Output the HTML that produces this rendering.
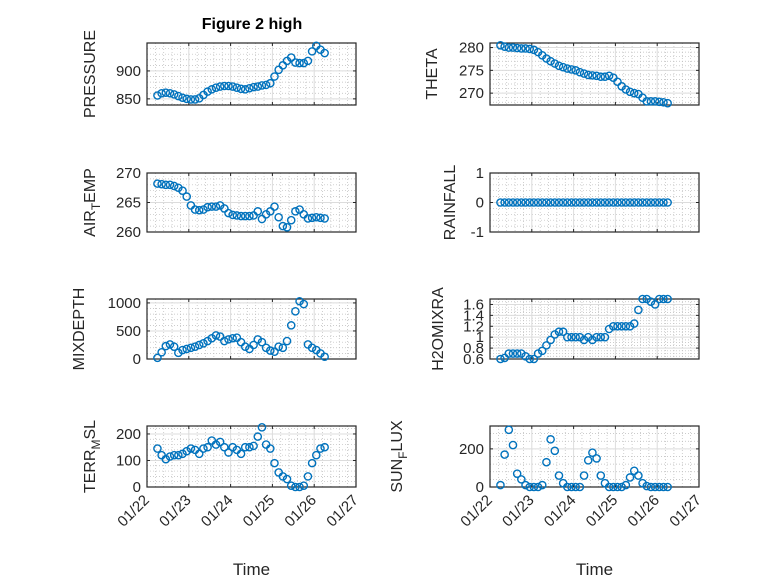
<!DOCTYPE html>
<html><head><meta charset="utf-8"><style>
html,body{margin:0;padding:0;background:#fff;}
svg{display:block;font-family:"Liberation Sans","DejaVu Sans",sans-serif;}
</style></head><body>
<svg id="fig" width="778" height="583" viewBox="0 0 778 583" xmlns="http://www.w3.org/2000/svg">
<rect width="778" height="583" fill="#fff"/>
<text x="252" y="29" text-anchor="middle" font-weight="bold" font-size="16" fill="#000">Figure 2 high</text>
</svg>
<script>
const days = [0.25,0.35,0.45,0.55,0.65,0.75,0.85,0.95,1.05,1.15,1.25,1.35,1.45,1.55,1.65,1.75,1.85,1.95,2.05,2.15,2.25,2.35,2.45,2.55,2.65,2.75,2.85,2.95,3.05,3.15,3.25,3.35,3.45,3.55,3.65,3.75,3.85,3.95,4.05,4.15,4.25];
const xTickLabels = ["01/22","01/23","01/24","01/25","01/26","01/27"];
const pressure = [856,860,861,860,858,855,852,850,849,849,851,857,863,867,870,872,873,873,872,870,868,867,869,871,872,874,875,878,890,902,910,918,924,915,914,914,918,935,945,938,932];
const theta = [280.5,280.2,280,280,279.9,279.8,279.8,279.7,279.5,279,278.3,277.6,277,276.5,276,275.7,275.4,275.2,275,274.6,274.3,274,273.9,273.8,273.6,273.6,273.8,273.4,272.5,271.5,270.8,270.3,270,269.8,269,268.2,268.2,268.2,268.1,268,267.8];
const airTemp = [268.2,268.1,268,268,267.8,267.5,267,266,264.5,263.8,263.7,263.8,264.2,264.3,264.3,264.5,264,263.2,262.9,262.8,262.7,262.7,262.7,262.8,263.5,262.2,263,263.5,264.3,262.5,261,260.8,262,263.5,263.8,263,262.3,262.4,262.5,262.4,262.3];
const rainfall = [0,0,0,0,0,0,0,0,0,0,0,0,0,0,0,0,0,0,0,0,0,0,0,0,0,0,0,0,0,0,0,0,0,0,0,0,0,0,0,0,0];
const mixDepth = [20,120,230,260,220,110,160,180,200,220,250,280,320,370,420,400,320,350,370,380,300,220,180,250,350,300,200,150,130,220,200,320,600,850,1030,980,260,200,160,100,40];
const h2oMixRa = [0.6,0.62,0.7,0.7,0.7,0.7,0.65,0.6,0.6,0.7,0.75,0.85,0.95,1.05,1.1,1.1,1.0,1.0,1.0,1.0,0.95,1.0,0.95,1.0,1.0,1.0,1.15,1.2,1.2,1.2,1.2,1.2,1.25,1.5,1.7,1.7,1.65,1.6,1.7,1.7,1.7];
const terrMsl = [145,120,105,115,120,120,125,135,145,140,125,145,150,175,160,170,150,130,150,140,125,150,150,155,190,225,160,145,90,55,40,30,5,0,0,5,40,90,120,145,150];
const sunFlux = [10,170,300,220,70,40,10,0,0,0,10,130,250,190,60,20,0,0,0,0,60,140,180,150,60,20,0,0,0,0,10,50,85,60,20,5,0,0,0,0,0];
const pressureTicks = [850,900];
const thetaTicks = [270,275,280];
const airTicks = [260,265,270];
const rainTicks = [-1,0,1];
const mixTicks = [0,500,1000];
const h2oTicks = [0.6,0.8,1,1.2,1.4,1.6];
const terrTicks = [0,100,200];
const sunTicks = [0,200];

const NS = "http://www.w3.org/2000/svg";
const svg = document.getElementById('fig');
function mk(tag, attrs, parent){const e=document.createElementNS(NS,tag);for(const k in attrs)e.setAttribute(k,attrs[k]);(parent||svg).appendChild(e);return e;}

const cols = [{x0:147,x1:356},{x0:490,x1:699}];
const rows = [{y0:43,y1:105},{y0:173,y1:232},{y0:299,y1:359},{y0:426,y1:487}];

function panel(o){
  const c=cols[o.col], r=rows[o.row];
  const g=mk('g',{});
  
  
  const sx=d=>c.x0+(d/5)*(c.x1-c.x0);
  const sy=v=>r.y1-(v-o.ymin)/(o.ymax-o.ymin)*(r.y1-r.y0);
  // minor grid
  for(let i=1;i<25;i++){ if(i%5===0)continue; const x=c.x0+i*(c.x1-c.x0)/25;
    mk('line',{x1:x,x2:x,y1:r.y0,y2:r.y1,stroke:'#bbb','stroke-width':0.7,'stroke-dasharray':'1,2'},g);}
  const mstep=o.minor;
  for(let v=Math.ceil(o.ymin/mstep)*mstep; v<=o.ymax; v+=mstep){ const y=sy(v); if(y<r.y0||y>r.y1)continue;
    mk('line',{x1:c.x0,x2:c.x1,y1:y,y2:y,stroke:'#bbb','stroke-width':0.7,'stroke-dasharray':'1,2'},g);}
  // major grid
  for(let i=1;i<5;i++){const x=sx(i);mk('line',{x1:x,x2:x,y1:r.y0,y2:r.y1,stroke:'#dcdcdc','stroke-width':1},g);}
  o.ticks.forEach(v=>{const y=sy(v);mk('line',{x1:c.x0,x2:c.x1,y1:y,y2:y,stroke:'#dcdcdc','stroke-width':1},g);
    const t=mk('text',{x:c.x0-6,y:y+5,'text-anchor':'end','font-size':15,fill:'#262626'},g);t.textContent=String(v);
    mk('line',{x1:c.x0,x2:c.x0+3,y1:y,y2:y,stroke:'#262626'},g);mk('line',{x1:c.x1,x2:c.x1-3,y1:y,y2:y,stroke:'#262626'},g);});
  for(let i=0;i<=5;i++){const x=sx(i);mk('line',{x1:x,x2:x,y1:r.y1,y2:r.y1-3,stroke:'#262626'},g);mk('line',{x1:x,x2:x,y1:r.y0,y2:r.y0+3,stroke:'#262626'},g);}
  mk('rect',{x:c.x0,y:r.y0,width:c.x1-c.x0,height:r.y1-r.y0,fill:'none',stroke:'#262626','stroke-width':1.2},g);
  // markers
  days.forEach((d,i)=>{
    const m=mk('circle',{cx:sx(d),cy:sy(o.data[i]),r:3.6,fill:'none',stroke:'#0072BD','stroke-width':1.4},g);
    
    
  });
  // y label
  const lx=o.lx, ly=(r.y0+r.y1)/2;
  const t=mk('text',{x:lx,y:ly,'text-anchor':'middle','font-size':16,fill:'#262626',transform:`rotate(-90 ${lx} ${ly})`},svg);
  
  
  if(o.sub){const a=mk('tspan',{},t);a.textContent=o.sub[0];const b=mk('tspan',{'font-size':12,dy:5},t);b.textContent=o.sub[1];const cc=mk('tspan',{dy:-5},t);cc.textContent=o.sub[2];}
  else t.textContent=o.label;
  if(o.row===3){
    xTickLabels.forEach((s,i)=>{const x=sx(i);const tl=mk('text',{x:x+3,y:r.y1+14,'text-anchor':'end','font-size':15,fill:'#262626',transform:`rotate(-45 ${x+3} ${r.y1+14})`},svg);tl.textContent=s;
      
      });
    const xl=mk('text',{x:(c.x0+c.x1)/2,y:575,'text-anchor':'middle','font-size':17,fill:'#262626'},svg);xl.textContent='Time';
    
    
  }
}
panel({name:'pressure',col:0,row:0,data:pressure,ymin:839,ymax:950,ticks:pressureTicks,minor:10,label:'PRESSURE',lx:95});
panel({name:'theta',col:1,row:0,data:theta,ymin:267.4,ymax:281,ticks:thetaTicks,minor:1,label:'THETA',lx:437});
panel({name:'air-temp',col:0,row:1,data:airTemp,ymin:260,ymax:270,ticks:airTicks,minor:1,sub:['AIR','T','EMP'],lx:95});
panel({name:'rainfall',col:1,row:1,data:rainfall,ymin:-1,ymax:1,ticks:rainTicks,minor:0.2,label:'RAINFALL',lx:455});
panel({name:'mixdepth',col:0,row:2,data:mixDepth,ymin:0,ymax:1070,ticks:mixTicks,minor:100,label:'MIXDEPTH',lx:84});
panel({name:'h2omixra',col:1,row:2,data:h2oMixRa,ymin:0.6,ymax:1.7,ticks:h2oTicks,minor:0.05,label:'H2OMIXRA',lx:443});
panel({name:'terr-msl',col:0,row:3,data:terrMsl,ymin:0,ymax:230,ticks:terrTicks,minor:20,sub:['TERR','M','SL'],lx:95});
panel({name:'sun-flux',col:1,row:3,data:sunFlux,ymin:0,ymax:320,ticks:sunTicks,minor:40,sub:['SUN','F','LUX'],lx:402});
</script>
</body></html>
